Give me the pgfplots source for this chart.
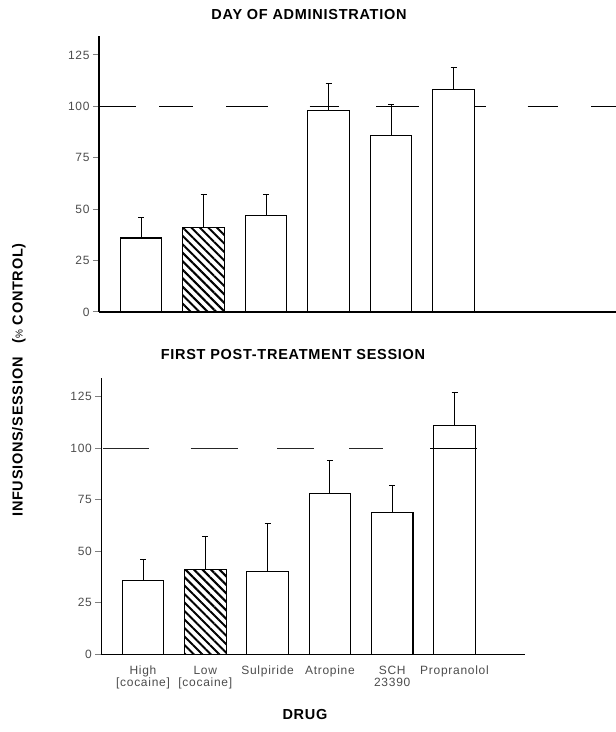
\documentclass[border=0pt]{standalone}
\usepackage{pgfplots}
\pgfplotsset{compat=1.18}
\usepackage{fontspec}
\setmainfont{Liberation Sans}
\newfontfamily\titlefont{Liberation Sans}[LetterSpace=5]
\newfontfamily\tickfont{Liberation Sans}[LetterSpace=6]
\usetikzlibrary{patterns.meta}

% Infusions per session as % of control: bar height and top of the error bar
\pgfplotstableread{
x   mean  err
1   36    10
3   47    10
4   98    13
5   86    15
6   108   11
}\dayadmin
\pgfplotstableread{
x   mean  err
2   41    16
}\dayadminlow
\pgfplotstableread{
x   mean  err
1   36    10
3   40    23.5
4   78    16
5   69    13
6   111   16
}\posttreat
\pgfplotstableread{
x   mean  err
2   41    16
}\posttreatlow

\pgfplotsset{
  drugpanel/.style={
    scale only axis,
    ymin=0, ymax=134.2,
    ytick={0,25,50,75,100,125},
    axis x line=bottom, axis y line=left,
    axis line style={-, line width=1.2pt},
    tick align=outside,
    major tick length=6pt,
    ytick style={line width=1pt},
    xtick style={draw=none},
    tick label style={font=\tickfont\fontsize{12}{12}\selectfont, text=black!70},
    /pgf/number format/assume math mode=true,
    clip=false,
  },
  drugbar/.style={
    ybar, bar width=41.5pt, bar shift=0pt,
    draw=black, line width=1.1pt,
    error bars/y dir=plus, error bars/y explicit,
    error bars/error bar style={line width=1pt},
    error bars/error mark options={rotate=90, mark size=3pt, line width=1pt},
  },
}

\begin{document}
\begin{tikzpicture}[x=1pt, y=1pt]
\useasboundingbox (0,0) rectangle (616,732);

% ---- Day of administration ----
\begin{axis}[drugpanel,
  at={(99pt,420pt)}, anchor=south west,
  width=517pt, height=276pt,
  xmin=0.328, xmax=8.6,
  xtick=\empty]
  \addplot[black, line width=1.3pt, unbounded coords=jump] coordinates {
    (0.328,100) (0.914,100) (0.914,nan)
    (1.288,100) (1.824,100) (1.824,nan)
    (2.36,100) (3.032,100) (3.032,nan)
    (3.698,100) (4.163,100) (4.163,nan)
    (4.76,100) (5.44,100) (5.44,nan)
    (5.976,100) (6.52,100) (6.52,nan)
    (7.187,100) (7.672,100) (7.672,nan)
    (8.2,100) (8.6,100)};
  \addplot[drugbar, fill=white] table[x=x, y=mean, y error plus=err] {\dayadmin};
  \addplot[drugbar, pattern={Lines[angle=-45, distance=6pt, line width=2pt]}]
    table[x=x, y=mean, y error plus=err] {\dayadminlow};
\end{axis}

% ---- First post-treatment session ----
\begin{axis}[drugpanel,
  at={(101.4pt,77.7pt)}, anchor=south west,
  width=423.2pt, height=276.6pt,
  xmin=0.332, xmax=7.125,
  xtick={1,2,3,4,5,6},
  xticklabels={High\\{[}cocaine{]}, Low\\{[}cocaine{]}, Sulpiride, Atropine, SCH\\23390, Propranolol},
  xticklabel style={align=center, yshift=-2pt}]
  \addplot[black!85, line width=1.1pt, unbounded coords=jump] coordinates {
    (0.358,100) (1.096,100) (1.096,nan)
    (1.764,100) (2.52,100) (2.52,nan)
    (3.151,100) (3.745,100) (3.745,nan)
    (4.307,100) (4.852,100) (4.852,nan)
    (5.607,100) (6.361,100)};
  \addplot[drugbar, fill=white] table[x=x, y=mean, y error plus=err] {\posttreat};
  \addplot[drugbar, pattern={Lines[angle=-45, distance=6pt, line width=2pt]}]
    table[x=x, y=mean, y error plus=err] {\posttreatlow};
  \addplot[black, line width=1.1pt] coordinates {(5.607,100) (6.361,100)};
\end{axis}

% ---- titles and axis labels ----
\node[font=\titlefont\bfseries\fontsize{14.5}{14.5}\selectfont] at (309,717) {DAY OF ADMINISTRATION};
\node[font=\titlefont\bfseries\fontsize{14.5}{14.5}\selectfont] at (293,377) {FIRST POST-TREATMENT SESSION};
\node[font=\titlefont\bfseries\fontsize{14.5}{14.5}\selectfont] at (305,17) {DRUG};
\node[rotate=90, font=\titlefont\bfseries\fontsize{14.5}{14.5}\selectfont] at (19,352)
  {INFUSIONS/SESSION\hspace{14pt}({\mdseries\fontsize{10}{10}\selectfont\%} CONTROL)};
\end{tikzpicture}
\end{document}
